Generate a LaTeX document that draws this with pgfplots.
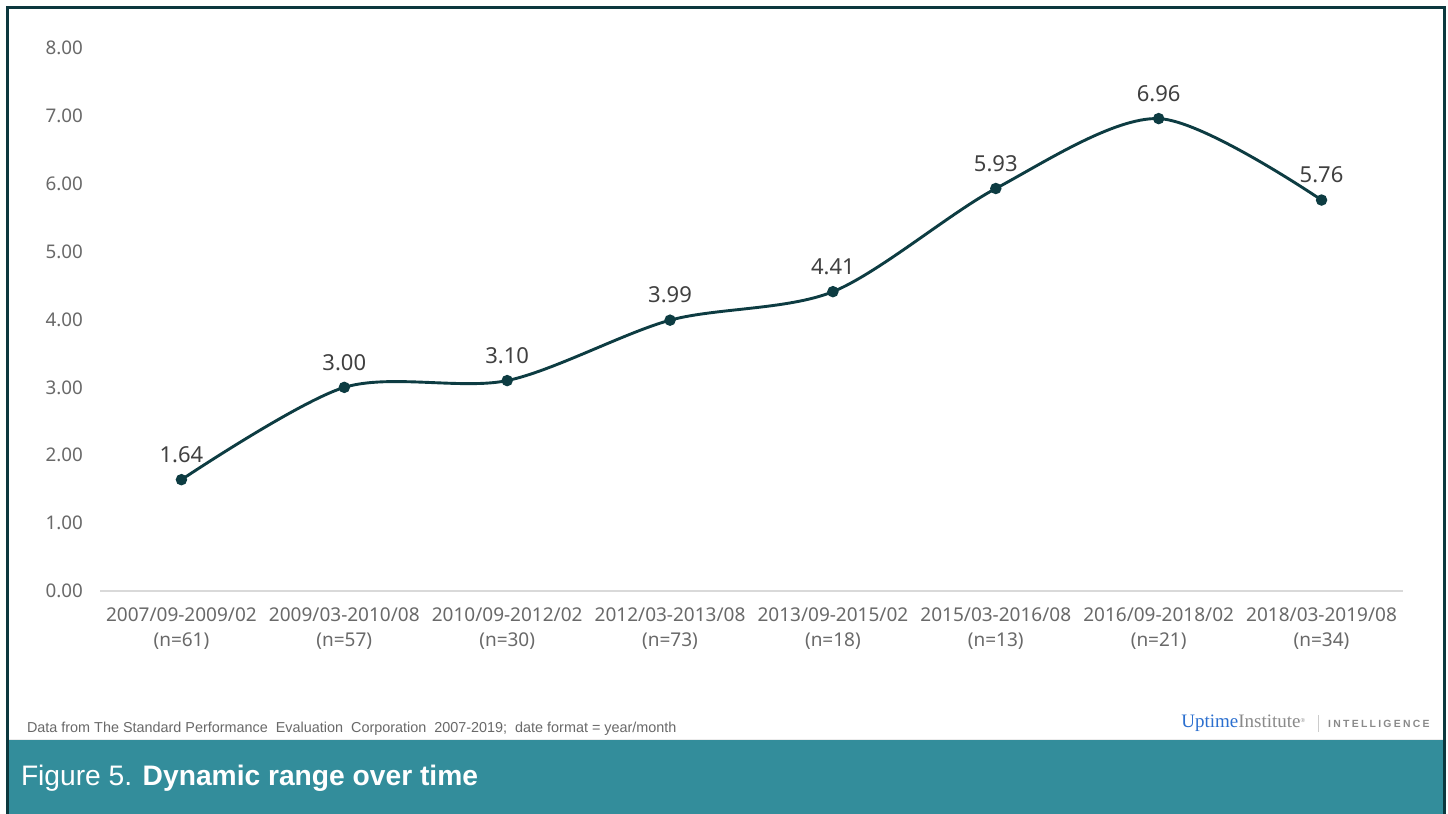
\documentclass[border=0pt]{standalone}
\usepackage{fontspec}
\setmainfont{Noto Sans}
\newfontfamily\arialf{Liberation Sans}
\newfontfamily\timesf{Liberation Serif}
\usepackage{pgfplots}
\pgfplotsset{compat=1.18}

\definecolor{lineteal}{RGB}{13,60,66}
\definecolor{frameteal}{RGB}{12,56,62}
\definecolor{banner}{RGB}{51,141,155}
\definecolor{tickgray}{RGB}{105,105,105}
\definecolor{labgray}{RGB}{64,64,64}
\definecolor{uptblue}{RGB}{43,111,207}
\definecolor{instgray}{RGB}{138,138,138}

\begin{document}
\begin{tikzpicture}[x=1pt,y=1pt]
  \useasboundingbox (0,0) rectangle (724,407);
  \fill[white] (0,0) rectangle (724,407);
  % banner at the bottom
  \fill[banner] (4,0) rectangle (722,37);
  \draw[gray!15, line width=0.5pt] (4,37.2) -- (722,37.2);
  \draw[frameteal, line width=1.3pt] (3.8,-5) -- (3.8,403.2) -- (722.2,403.2) -- (722.2,-5);

  \begin{axis}[
      at={(50pt,111.5pt)}, anchor=south west,
      scale only axis, width=651.5pt, height=271.5pt,
      xmin=-0.5, xmax=7.5, ymin=0, ymax=8,
      axis line style={draw=none},
      major tick length=0pt,
      xtick={0,...,7},
      xticklabels={
        {2007/09-2009/02\\(n=61)},
        {2009/03-2010/08\\(n=57)},
        {2010/09-2012/02\\(n=30)},
        {2012/03-2013/08\\(n=73)},
        {2013/09-2015/02\\(n=18)},
        {2015/03-2016/08\\(n=13)},
        {2016/09-2018/02\\(n=21)},
        {2018/03-2019/08\\(n=34)}},
      xticklabel style={align=center, text=tickgray,
        font=\fontsize{9.5}{12.5}\selectfont, yshift=-5pt},
      ytick={0,...,8},
      yticklabel style={text=tickgray, font=\fontsize{9.4}{10}\selectfont,
        xshift=-5pt},
      /pgf/number format/assume math mode=true,
      yticklabel={\pgfmathprintnumber[fixed, fixed zerofill, precision=2]{\tick}},
      nodes near coords={\pgfmathprintnumber[fixed, fixed zerofill, precision=2]{\pgfplotspointmeta}},
      every node near coord/.append style={anchor=base, inner sep=0pt,
        yshift=8.6pt, text=labgray, font=\fontsize{11}{12}\selectfont},
      clip=false,
    ]
    \draw[gray!30, line width=0.6pt] (axis cs:-0.5,0) -- (axis cs:7.5,0);
    \addplot[smooth, lineteal, line width=1.45pt, mark=*,
      mark options={fill=lineteal, draw=lineteal, scale=1.05}]
      coordinates {
        (0,1.64) (1,3.00) (2,3.10) (3,3.99)
        (4,4.41) (5,5.93) (6,6.96) (7,5.76)
      };
  \end{axis}

  % footnote and logo
  \node[anchor=base west, inner sep=0pt, text=tickgray,
    font=\arialf\fontsize{7.2}{8}\selectfont] at (13.3,40.6)
    {Data from The Standard Performance\ \ Evaluation\ \ Corporation\ \ 2007-2019;\ \ date format = year/month};
  \node[anchor=base west, inner sep=0pt, font=\timesf\fontsize{9.5}{10}\selectfont] at (590.5,43)
    {\textcolor{uptblue}{Uptime}\textcolor{instgray}{Institute\raisebox{2.5pt}{\fontsize{3}{3}\selectfont\textregistered}}};
  \draw[gray!40, line width=0.5pt] (659,41) -- (659,49.5);
  \node[anchor=base east, inner sep=0pt, text=instgray,
    font=\arialf\bfseries\fontsize{5.2}{6}\selectfont\addfontfeature{LetterSpace=22}] at (715,43)
    {INTELLIGENCE};

  % title in the banner
  \node[anchor=base west, inner sep=0pt, text=white,
    font=\arialf\fontsize{14.1}{16}\selectfont] at (10.3,14)
    {Figure 5. \textbf{Dynamic range over time}};
\end{tikzpicture}
\end{document}
